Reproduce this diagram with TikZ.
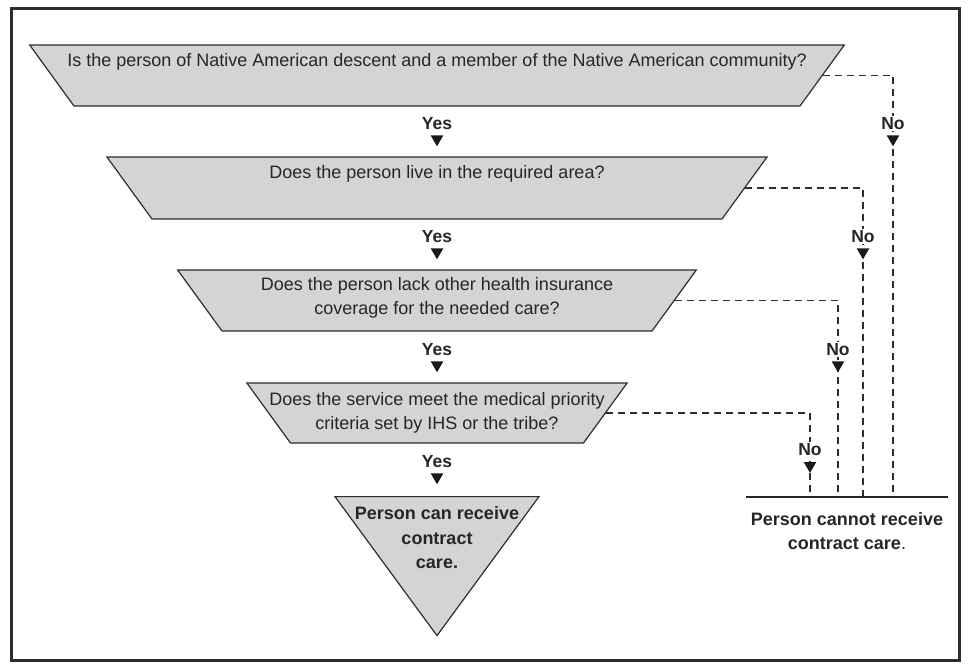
\documentclass[tikz,border=0pt]{standalone}
\usepackage{fontspec}
\setmainfont{Liberation Sans}
\usepackage{xcolor}
\usepackage{tikz}
\usetikzlibrary{shapes.geometric}
\usetikzlibrary{positioning}

\definecolor{boxgray}{RGB}{211,212,214}
\definecolor{linegray}{RGB}{45,45,45}

\begin{document}
\begin{tikzpicture}[
        x=1pt, y=-1pt,
        % 
        question node/.style={
            trapezium,
            trapezium angle=54,
            shape border rotate=180,
            draw=linegray,
            line width=1.2pt,
            fill=boxgray,
        },
        question text/.style={
            align=center,
            inner sep=0pt,
            text=black!85,
            font={\fontsize{18}{23.5}\selectfont},
        },
        % 
        end node/.style={
            isosceles triangle,
            isosceles triangle stretches=true,
            shape border rotate=270,
            minimum width=204pt,
            minimum height=139pt,
            anchor=north,
            draw=linegray,
            line width=1.2pt,
            fill=boxgray,
            inner sep=1pt,
        },
        end text/.style={
            align=center,
            inner sep=0pt,
            text=black!85,
            font={\fontsize{18}{24.5}\selectfont\bfseries},
        },
        % 
        yes label/.style={
            font={\fontsize{17.5}{20}\selectfont\bfseries},
            text=black!85,
            inner sep=1.5pt,
            fill=white,
        },
        mark node/.style={
            regular polygon,
            regular polygon sides=3,
            shape border rotate=180,
            minimum size=14.5pt,
            inner sep=0pt,
            fill=black!90,
        },
        no edge/.style={draw=linegray, line width=1.2pt, dash pattern=on 7pt off 5pt},
        base edge/.style={draw=black!85, line width=2.5pt},
        frame/.style={draw=linegray, line width=3pt}
        ]
        
        \useasboundingbox (0,0) rectangle (970,664);
        \draw[frame] (11,8) rectangle (959,660);
        
        % Vertices
        
        \node[question node, inner xsep=363pt, inner ysep=30.5pt] (q1) at (437,75.5) {};
        \node[question node, inner xsep=285pt, inner ysep=31pt] (q2) at (437,188) {};
        \node[question node, inner xsep=215pt, inner ysep=30.5pt] (q3) at (437,300.5) {};
        \node[question node, inner xsep=146.5pt, inner ysep=30pt] (q4) at (437,413) {};
        \node[end node] (can) at (437,496) {};
        
        \node[question text] (q1-text) at (437,62) {Is the person of Native American descent and a member of the Native American community?};
        \node[question text] (q2-text) at (437,174) {Does the person live in the required area?};
        \node[question text] (q3-text) at (437,298) {Does the person lack other health insurance\\coverage for the needed care?};
        \node[question text] (q4-text) at (437,413) {Does the service meet the medical priority\\criteria set by IHS or the tribe?};
        \node[end text] (can-text) at (437,538) {Person can receive\\contract\\care.};
        
        \node[yes label, below=9pt of q1] (yes1) {Yes};
        \node[mark node, below=4pt of yes1] (yes1-mark) {};
        \node[yes label, below=9pt of q2] (yes2) {Yes};
        \node[mark node, below=4pt of yes2] (yes2-mark) {};
        \node[yes label, below=10pt of q3] (yes3) {Yes};
        \node[mark node, below=4pt of yes3] (yes3-mark) {};
        \node[yes label, below=10pt of q4] (yes4) {Yes};
        \node[mark node, below=4pt of yes4] (yes4-mark) {};
        
        \coordinate (col1) at (893,497);
        \coordinate (col2) at (863,497);
        \coordinate (col3) at (838,497);
        \coordinate (col4) at (810,497);
        \coordinate (base-left) at (746,497);
        \coordinate (base-right) at (948,497);
        
        \node[end text] (cannot-text) at (847,531) {Person cannot receive\\contract care\textmd{.}};
        
        % Edges
        
        \draw[no edge] (q1.east) -| (col1);
        \draw[no edge] (q2.east) -| (col2);
        \draw[no edge] (q3.east) -| (col3);
        \draw[no edge] (q4.east) -| (col4);
        
        \draw[base edge] (base-left) -- (base-right);
        
        \node[yes label] (no1) at (col1 |- yes1) {No};
        \node[mark node, below=4pt of no1] (no1-mark) {};
        \node[yes label] (no2) at (col2 |- yes2) {No};
        \node[mark node, below=4pt of no2] (no2-mark) {};
        \node[yes label] (no3) at (col3 |- yes3) {No};
        \node[mark node, below=4pt of no3] (no3-mark) {};
        \node[yes label] (no4) at (col4 |- 0,450) {No};
        \node[mark node, below=4pt of no4] (no4-mark) {};
        % 
    \end{tikzpicture}
\end{document}
